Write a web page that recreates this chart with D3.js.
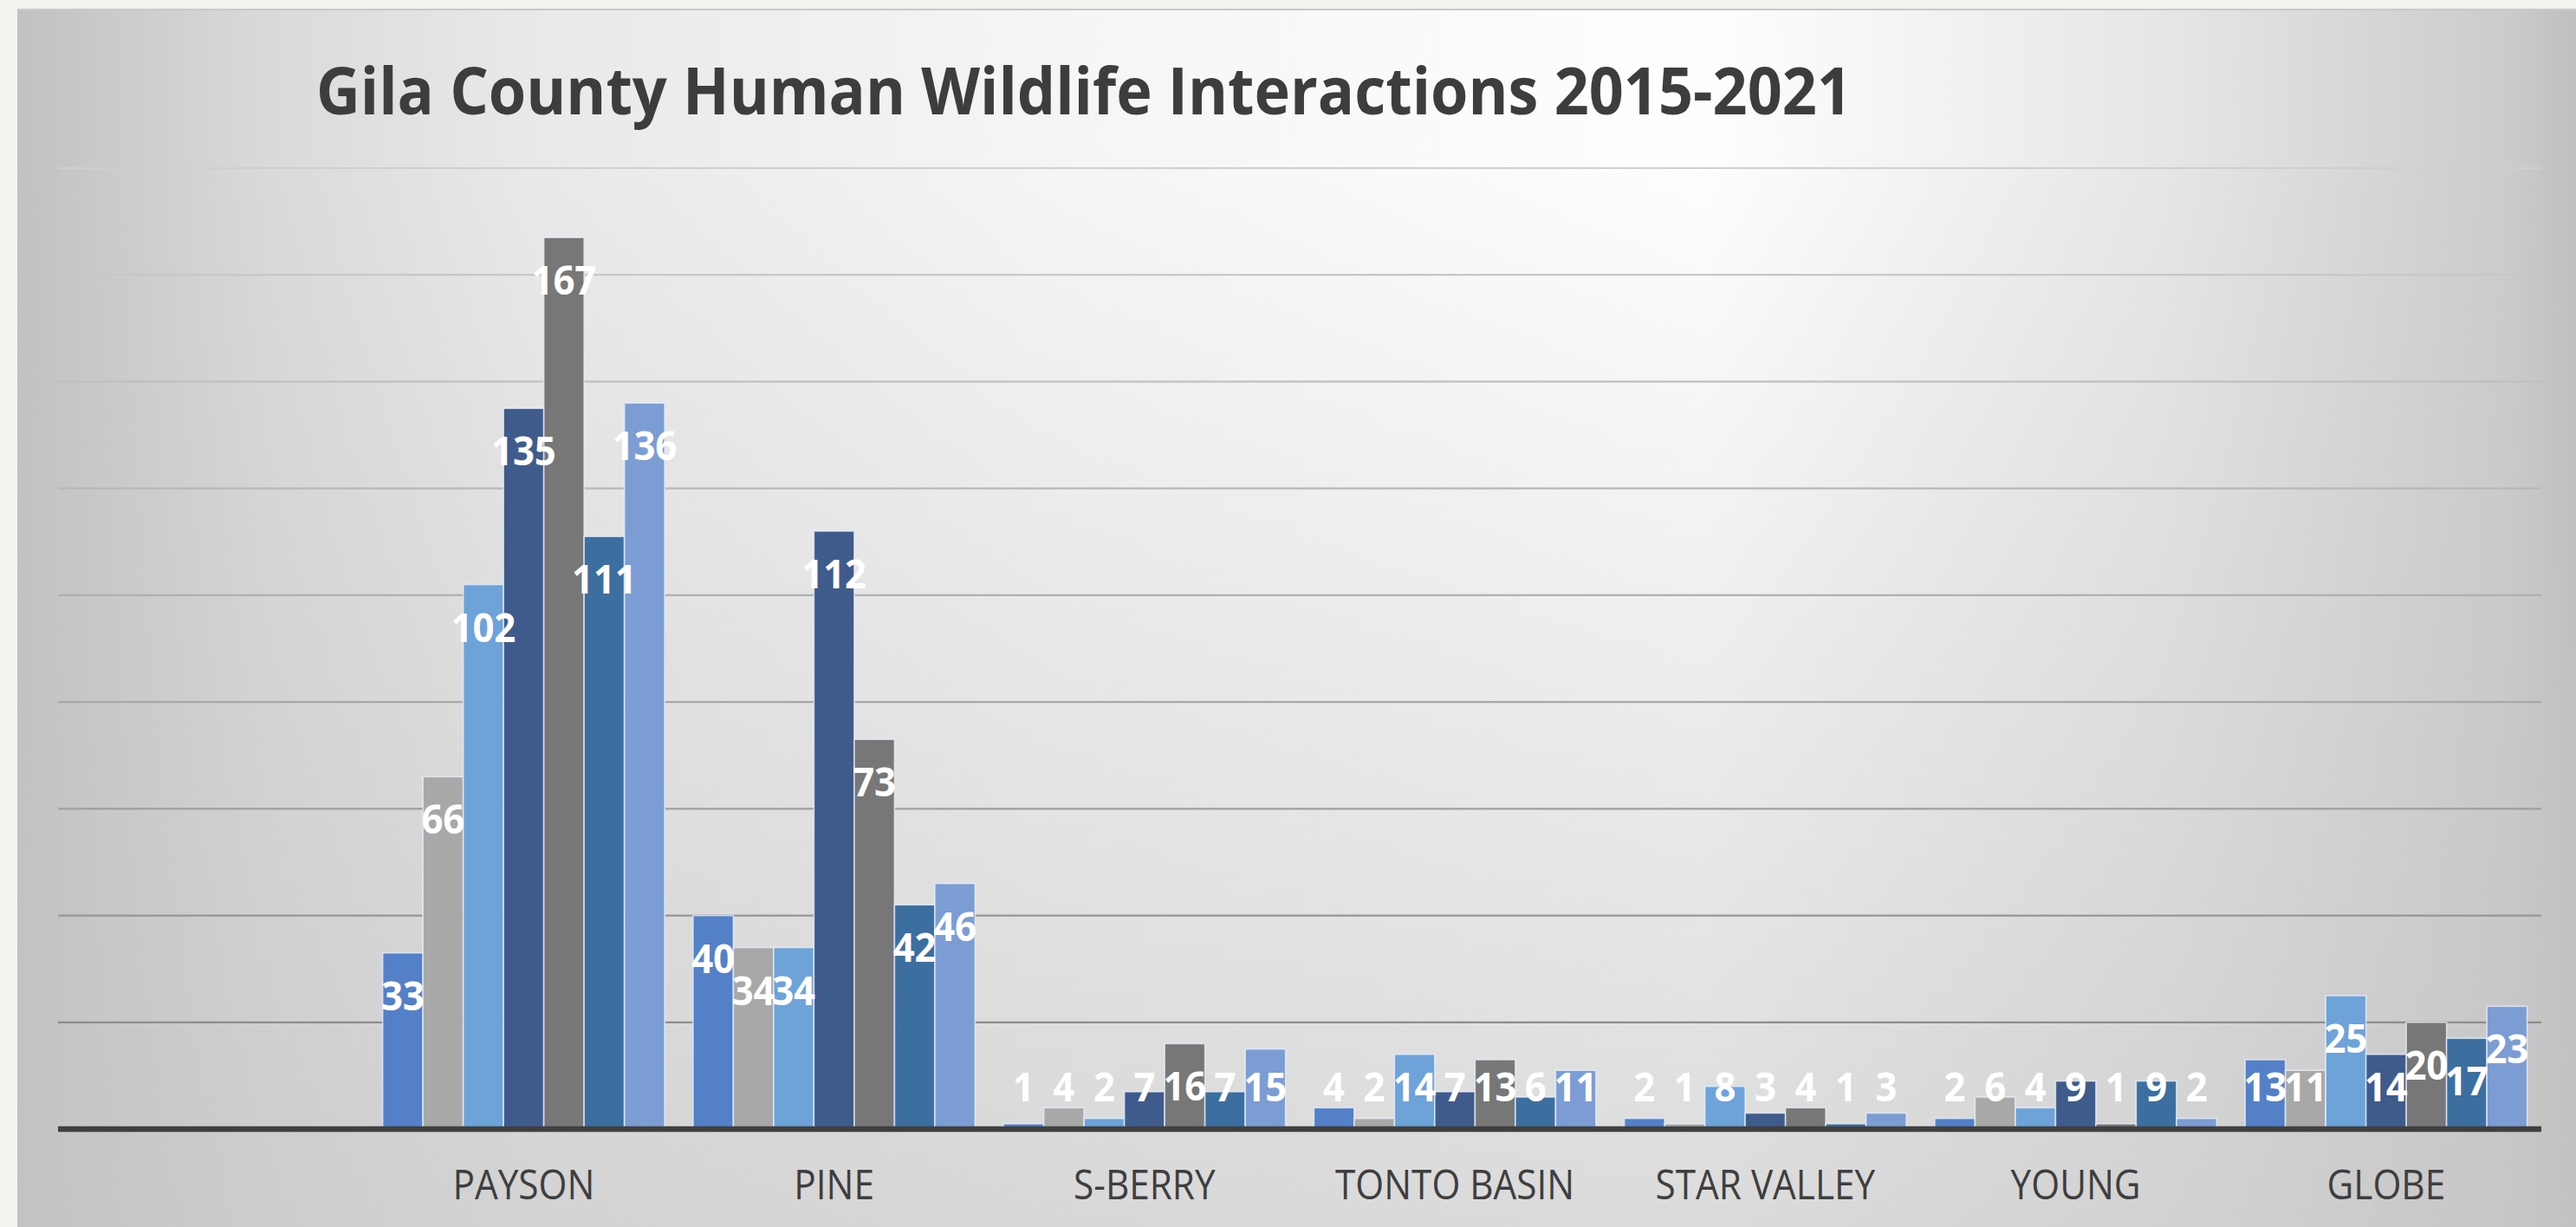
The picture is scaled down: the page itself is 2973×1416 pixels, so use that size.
<!DOCTYPE html>
<html>
<head>
<meta charset="utf-8">
<script src="https://cdn.jsdelivr.net/npm/d3@7"></script>
<style>
  html, body { margin: 0; padding: 0; background: #f2f3ef; }
  svg { display: block; }
</style>
</head>
<body>
<svg id="chart" width="2973" height="1416"></svg>
<script>
// Town names along the category axis (the first slot is left empty)
const categories = ["", "PAYSON", "PINE", "S-BERRY", "TONTO BASIN", "STAR VALLEY", "YOUNG", "GLOBE"];
const years = ["2015", "2016", "2017", "2018", "2019", "2020", "2021"];

// Interactions per year, one value per category
const values2015 = [null, 33, 40, 1, 4, 2, 2, 13];
const values2016 = [null, 66, 34, 4, 2, 1, 6, 11];
const values2017 = [null, 102, 34, 2, 14, 8, 4, 25];
const values2018 = [null, 135, 112, 7, 7, 3, 9, 14];
const values2019 = [null, 167, 73, 16, 13, 4, 1, 20];
const values2020 = [null, 111, 42, 7, 6, 1, 9, 17];
const values2021 = [null, 136, 46, 15, 11, 3, 2, 23];

const seriesValues = [values2015, values2016, values2017, values2018, values2019, values2020, values2021];
const seriesColors = ["#5480c8", "#a8a8a8", "#6da3d9", "#3f5b8b", "#777777", "#3c6e9f", "#7c9dd4"];

const yTicks = [20, 40, 60, 80, 100, 120, 140, 160, 180];
const title = "Gila County Human Wildlife Interactions 2015-2021";

const W = 2973, H = 1416;
const plot = { left: 67, right: 2933, top: 194, bottom: 1303 };

const svg = d3.select("#chart");
const defs = svg.append("defs");

// Panel background: soft horizontal sheen, darker towards the bottom
const hGrad = defs.append("linearGradient").attr("id", "panelH")
  .attr("x1", 0).attr("y1", 0).attr("x2", 1).attr("y2", 0);
[[0, "#c1c1c1"], [0.03, "#c9c9c9"], [0.1, "#dadada"], [0.2, "#e9e9e9"], [0.4, "#f5f5f5"],
 [0.66, "#fefefe"], [0.84, "#e6e6e6"], [0.975, "#cbcbcb"], [1, "#bfbfbf"]]
  .forEach(([o, c]) => hGrad.append("stop").attr("offset", o).attr("stop-color", c));

const vGrad = defs.append("linearGradient").attr("id", "panelV")
  .attr("x1", 0).attr("y1", 0).attr("x2", 0).attr("y2", 1);
[[0, 0], [0.12, 0], [1, 0.6]]
  .forEach(([o, a]) => vGrad.append("stop").attr("offset", o).attr("stop-color", "#c4c4c4").attr("stop-opacity", a));

// Gridlines fade from light at the top to darker near the baseline
const gGrad = defs.append("linearGradient").attr("id", "gridGrad")
  .attr("gradientUnits", "userSpaceOnUse")
  .attr("x1", 0).attr("y1", plot.top).attr("x2", 0).attr("y2", plot.bottom);
[[0, "#cfcfcf"], [0.5, "#acacac"], [1, "#848484"]]
  .forEach(([o, c]) => gGrad.append("stop").attr("offset", o).attr("stop-color", c));

svg.append("rect").attr("x", 20).attr("y", 10).attr("width", W - 20).attr("height", H - 10)
  .attr("fill", "url(#panelH)");
svg.append("rect").attr("x", 20).attr("y", 10).attr("width", W - 20).attr("height", H - 10)
  .attr("fill", "url(#panelV)");
svg.append("line").attr("x1", 20).attr("x2", W).attr("y1", 11).attr("y2", 11)
  .attr("stroke", "#c9c9c9").attr("stroke-width", 2);

// Scales
const x = d3.scaleBand().domain(d3.range(categories.length))
  .range([plot.left, plot.right]).paddingInner(0.0914).paddingOuter(0.0457);
const xSub = d3.scaleBand().domain(d3.range(years.length)).range([0, x.bandwidth()]).padding(0);
const y = d3.scaleLinear().domain([0, 180]).range([plot.bottom, plot.top]);

// Horizontal gridlines
svg.append("g").selectAll("line").data(yTicks).join("line")
  .attr("x1", plot.left).attr("x2", plot.right)
  .attr("y1", d => y(d)).attr("y2", d => y(d))
  .attr("stroke", "url(#gridGrad)").attr("stroke-width", 2.2);

// Title
svg.append("text")
  .attr("x", 365).attr("y", 132)
  .attr("font-family", "'Open Sans', sans-serif").attr("font-weight", 700)
  .attr("font-size", 76).attr("fill", "#3d3d3d")
  .attr("textLength", 1772).attr("lengthAdjust", "spacingAndGlyphs")
  .text(title);

// Bars
const bars = [];
seriesValues.forEach((vals, s) => {
  vals.forEach((v, c) => {
    if (v !== null) bars.push({ s, c, v });
  });
});

const barG = svg.append("g");
barG.selectAll("rect").data(bars).join("rect")
  .attr("x", d => x(d.c) + xSub(d.s))
  .attr("width", xSub.bandwidth())
  .attr("y", d => y(d.v))
  .attr("height", d => y(0) - y(d.v))
  .attr("fill", d => seriesColors[d.s])
  .attr("stroke", "rgba(235,242,252,0.75)")
  .attr("stroke-width", 1.6);

// Category axis line
svg.append("line").attr("x1", plot.left).attr("x2", plot.right)
  .attr("y1", y(0)).attr("y2", y(0))
  .attr("stroke", "#3f3f3f").attr("stroke-width", 6.5);

// Helper: narrow a text element to mimic a condensed face
function squeeze(sel, factor) {
  sel.each(function () {
    const len = this.getComputedTextLength();
    d3.select(this).attr("textLength", len * factor).attr("lengthAdjust", "spacingAndGlyphs");
  });
}

// Value labels inside the bar ends
const labelG = svg.append("g");
labelG.selectAll("text").data(bars).join("text")
  .attr("x", d => x(d.c) + xSub(d.s) + xSub.bandwidth() / 2)
  .attr("y", d => Math.min(y(d.v) + 66, y(0) - 32))
  .attr("text-anchor", "middle")
  .attr("font-family", "'Open Sans', sans-serif").attr("font-weight", 700)
  .attr("font-size", 46).attr("fill", "#ffffff")
  .text(d => d.v)
  .call(squeeze, 0.95);

// Category labels
svg.append("g").selectAll("text").data(categories).join("text")
  .attr("x", (d, i) => x(i) + x.bandwidth() / 2)
  .attr("y", 1384)
  .attr("text-anchor", "middle")
  .attr("font-family", "'Open Sans', sans-serif")
  .attr("font-size", 47).attr("fill", "#3e3e3e")
  .text(d => d)
  .call(squeeze, 0.9);
</script>
</body>
</html>
